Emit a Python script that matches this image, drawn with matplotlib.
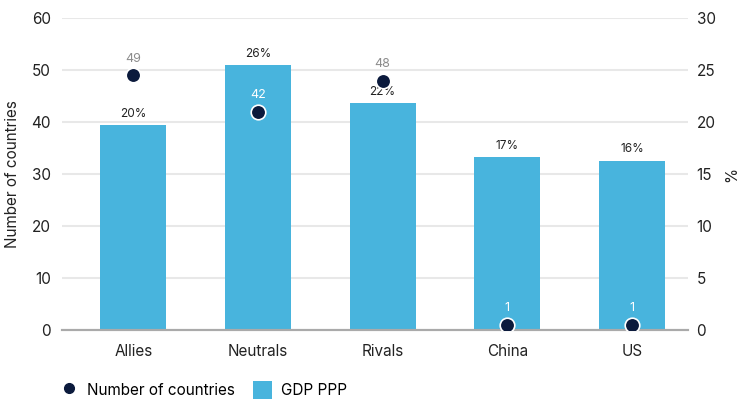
import matplotlib.pyplot as plt
from matplotlib.lines import Line2D
from matplotlib.patches import Patch

plt.rcParams['font.family'] = ['Inter', 'DejaVu Sans']

# Data
groups = ['Allies', 'Neutrals', 'Rivals', 'China', 'US']
gdp_ppp = [19.7, 25.5, 21.8, 16.6, 16.3]          # % (right axis)
gdp_labels = ['20%', '26%', '22%', '17%', '16%']
n_countries = [49, 42, 48, 1, 1]                  # left axis
inside_bar = [False, True, False, True, True]     # label colour choice

bar_col = '#48b4dd'
dot_col = '#0b1a3c'
txt_col = '#222222'

fig = plt.figure(figsize=(7.4, 4.13), dpi=100)
ax = fig.add_axes([0.084, 0.201, 0.846, 0.755])
ax2 = ax.twinx()

x = range(len(groups))

# bars on the % axis
ax2.bar(x, gdp_ppp, width=0.53, color=bar_col, zorder=2)
for xi, v, lab in zip(x, gdp_ppp, gdp_labels):
    ax2.text(xi, v + 0.5, lab, ha='center', va='bottom', fontsize=8.5, color=txt_col)

# dots on the count axis (drawn on top)
ax.set_zorder(ax2.get_zorder() + 1)
ax.patch.set_visible(False)
ax.scatter(x, n_countries, s=110, color=dot_col, edgecolor='white', linewidth=1.2, zorder=3)
for xi, v, ins in zip(x, n_countries, inside_bar):
    ax.text(xi, v + 2.0, str(v), ha='center', va='bottom', fontsize=9,
            color='white' if ins else '#8c8c8c')

ax.set_xlim(-0.57, 4.45)
ax.set_ylim(0, 60)
ax2.set_ylim(0, 30)
ax.set_yticks(range(0, 61, 10))
ax2.set_yticks(range(0, 31, 5))
ax.set_xticks(list(x))
ax.set_xticklabels(groups)

ax2.yaxis.grid(True, color='#e8e8e8', linewidth=1.5, zorder=0)
ax2.set_axisbelow(True)

for a in (ax, ax2):
    for s in ('top', 'left', 'right'):
        a.spines[s].set_visible(False)
    a.spines['bottom'].set_color('#aaaaaa')
    a.spines['bottom'].set_linewidth(1.5)
    a.tick_params(length=0, labelsize=11, colors=txt_col)

ax.tick_params(axis='y', pad=8)
ax2.tick_params(axis='y', pad=6)
ax.tick_params(axis='x', pad=10)

ax.set_ylabel('Number of countries', fontsize=11, color=txt_col, labelpad=8)
ax2.set_ylabel('%', fontsize=11, color=txt_col, labelpad=6)

handles = [
    Line2D([0], [0], marker='o', linestyle='none', markersize=7,
           markerfacecolor=dot_col, markeredgecolor=dot_col, label='Number of countries'),
    Patch(facecolor=bar_col, label='GDP PPP'),
]
fig.legend(handles=handles, loc='lower left', bbox_to_anchor=(0.062, 0.0), ncol=2,
           frameon=False, fontsize=11, handlelength=1.2, handleheight=1.5,
           columnspacing=1.2, handletextpad=0.6)

fig.savefig('out.png', dpi=100)
